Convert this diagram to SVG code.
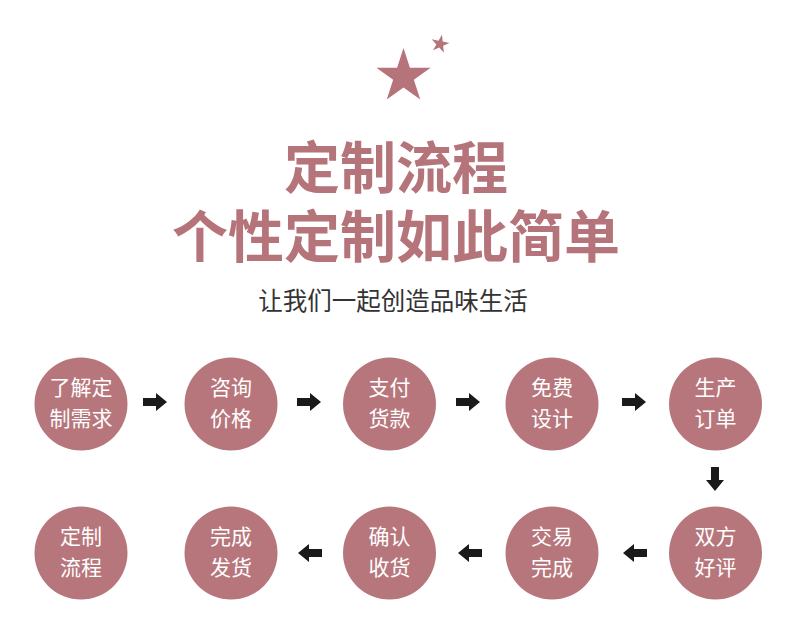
<svg xmlns="http://www.w3.org/2000/svg" xmlns:xlink="http://www.w3.org/1999/xlink" width="790" height="643" viewBox="0 0 790 643">
<style>
.title{font-family:"Noto Sans CJK SC","Noto Sans",sans-serif;font-weight:700;font-size:56px;fill:#b5737a;text-anchor:middle}
.sub{font-family:"Noto Sans CJK SC","Noto Sans",sans-serif;font-size:24.5px;fill:#333333;text-anchor:middle}
.node circle{fill:#b7767b}
.node text{font-family:"Noto Sans CJK SC","Noto Sans",sans-serif;font-size:21px;fill:#ffffff;text-anchor:middle}
.arrow{fill:#1a1a1a}
</style>
<defs>
<path id="arr" d="M0,-4 H13 V-9 L24,0 L13,9 V4 H0 Z"/>
<path id="star" d="M0,-1 L0.2245,-0.309 L0.951,-0.309 L0.3633,0.118 L0.5878,0.809 L0,0.382 L-0.5878,0.809 L-0.3633,0.118 L-0.951,-0.309 L-0.2245,-0.309 Z"/>
</defs>
<rect width="790" height="643" fill="#ffffff"/>
<g id="stars" fill="#b5737a">
<use xlink:href="#star" href="#star" transform="translate(403.5,76.5) scale(28.5)"/>
<use xlink:href="#star" href="#star" transform="translate(440,44) rotate(12) scale(9.5)"/>
</g>
<g id="heading">
<text class="title" x="396" y="188">定制流程</text>
<text class="title" x="396" y="257">个性定制如此简单</text>
<text class="sub" x="393" y="310">让我们一起创造品味生活</text>
</g>
<g id="connectors" class="arrow">
<use xlink:href="#arr" href="#arr" transform="translate(143,402)"/>
<use xlink:href="#arr" href="#arr" transform="translate(297,402)"/>
<use xlink:href="#arr" href="#arr" transform="translate(456,402)"/>
<use xlink:href="#arr" href="#arr" transform="translate(622,402)"/>
<use xlink:href="#arr" href="#arr" transform="translate(715,467) rotate(90)"/>
<use xlink:href="#arr" href="#arr" transform="translate(647,553) rotate(180)"/>
<use xlink:href="#arr" href="#arr" transform="translate(482,553) rotate(180)"/>
<use xlink:href="#arr" href="#arr" transform="translate(322,553) rotate(180)"/>
</g>
<g id="n1" class="node"><circle cx="81" cy="404" r="46.5"/><text x="81" y="395">了解定<tspan x="81" dy="30.5">制需求</tspan></text></g>
<g id="n2" class="node"><circle cx="231" cy="404" r="46.5"/><text x="231" y="395">咨询<tspan x="231" dy="30.5">价格</tspan></text></g>
<g id="n3" class="node"><circle cx="389.5" cy="404" r="46.5"/><text x="389.5" y="395">支付<tspan x="389.5" dy="30.5">货款</tspan></text></g>
<g id="n4" class="node"><circle cx="552" cy="404" r="46.5"/><text x="552" y="395">免费<tspan x="552" dy="30.5">设计</tspan></text></g>
<g id="n5" class="node"><circle cx="715.5" cy="404" r="46.5"/><text x="715.5" y="395">生产<tspan x="715.5" dy="30.5">订单</tspan></text></g>
<g id="n6" class="node"><circle cx="715.5" cy="553" r="46.5"/><text x="715.5" y="544">双方<tspan x="715.5" dy="30.5">好评</tspan></text></g>
<g id="n7" class="node"><circle cx="552" cy="553" r="46.5"/><text x="552" y="544">交易<tspan x="552" dy="30.5">完成</tspan></text></g>
<g id="n8" class="node"><circle cx="389.5" cy="553" r="46.5"/><text x="389.5" y="544">确认<tspan x="389.5" dy="30.5">收货</tspan></text></g>
<g id="n9" class="node"><circle cx="231" cy="553" r="46.5"/><text x="231" y="544">完成<tspan x="231" dy="30.5">发货</tspan></text></g>
<g id="n10" class="node"><circle cx="81" cy="553" r="46.5"/><text x="81" y="544">定制<tspan x="81" dy="30.5">流程</tspan></text></g>
</svg>
